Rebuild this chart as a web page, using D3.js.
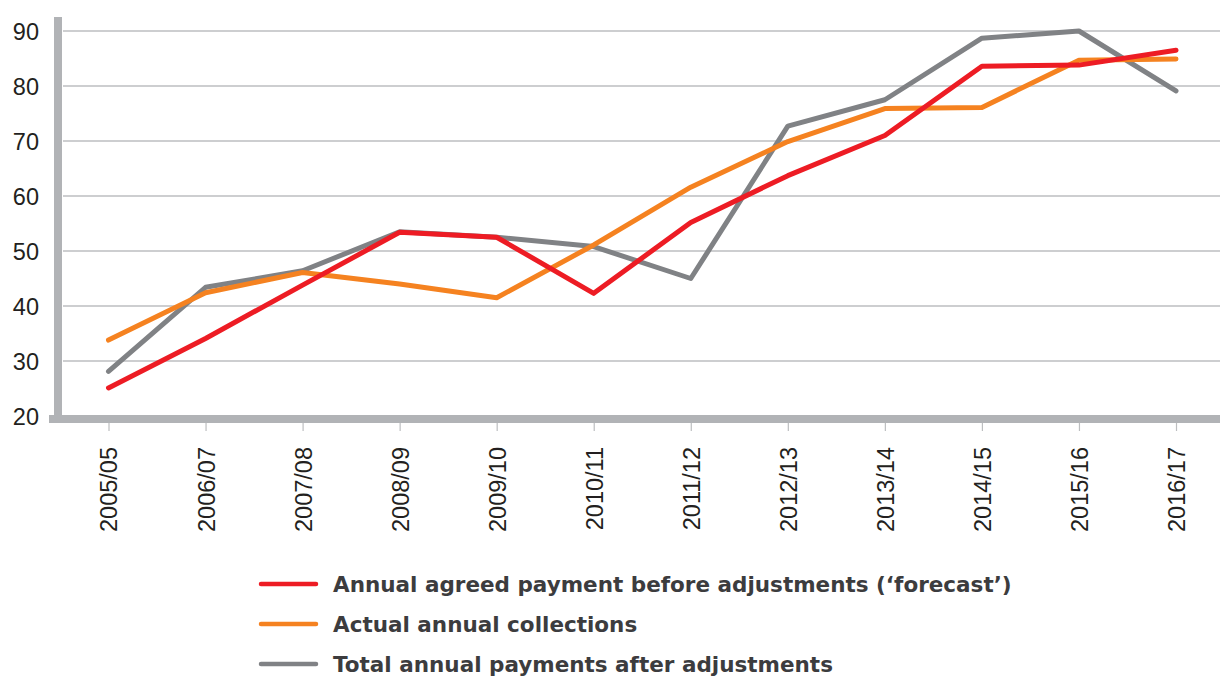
<!DOCTYPE html>
<html>
<head>
<meta charset="utf-8">
<script src="https://cdnjs.cloudflare.com/ajax/libs/d3/7.8.5/d3.min.js"></script>
<style>
  body { margin: 0; background: #fff; }
  svg { display: block; }
  .tick-label { font-family: "Liberation Sans", Arial, sans-serif; font-size: 23.5px; fill: #231f20; }
  .legend-label { font-family: "DejaVu Sans", sans-serif; font-weight: bold; font-size: 21.5px; fill: #3c3c3e; }
</style>
</head>
<body>
<svg></svg>
<script>
var years = ['2005/05', '2006/07', '2007/08', '2008/09', '2009/10', '2010/11',
             '2011/12', '2012/13', '2013/14', '2014/15', '2015/16', '2016/17'];
var forecast = [25.1, 34.1, 43.8, 53.4, 52.5, 42.3, 55.2, 63.7, 71.0, 83.6, 83.8, 86.5];
var collections = [33.8, 42.4, 46.1, 44.0, 41.5, 51.1, 61.6, 69.9, 75.9, 76.1, 84.7, 84.9];
var totals = [28.1, 43.4, 46.4, 53.5, 52.5, 50.8, 45.0, 72.7, 77.5, 88.7, 90.0, 79.1];
var yTicks = [20, 30, 40, 50, 60, 70, 80, 90];
var seriesNames = ["Annual agreed payment before adjustments (\u2018forecast\u2019)",
                   'Actual annual collections',
                   'Total annual payments after adjustments'];
var seriesColors = ['#ed1c24', '#f58220', '#808285'];

var width = 1220;
var height = 677;
var svg = d3.select('svg')
              .attr('width', width)
              .attr('height', height);

var xScale = d3.scalePoint()
               .domain(years)
               .range([108.5, 1176]);

var yScale = d3.scaleLinear()
               .domain([20, 90])
               .range([416, 31]);

// horizontal gridlines
svg.append('g')
   .selectAll('line')
   .data(yTicks.filter(d => d > 20))
   .enter()
   .append('line')
     .attr('x1', 63)
     .attr('x2', width)
     .attr('y1', d => yScale(d))
     .attr('y2', d => yScale(d))
     .attr('stroke', '#bcbec0')
     .attr('stroke-width', 1.5);

// y labels
svg.append('g')
   .selectAll('text')
   .data(yTicks)
   .enter()
   .append('text')
     .attr('class', 'tick-label')
     .attr('x', 39)
     .attr('y', d => yScale(d) + 8.5)
     .attr('text-anchor', 'end')
     .text(d => d);

// x axis ticks + rotated labels
var xAxis = svg.append('g')
   .attr('transform', 'translate(0, 423)')
   .call(d3.axisBottom(xScale).tickSize(8).tickPadding(16));
xAxis.select('.domain').remove();
xAxis.selectAll('.tick line').attr('stroke', '#bcbec0').attr('stroke-width', 1.2);
xAxis.selectAll('.tick text')
   .attr('class', 'tick-label')
   .attr('transform', 'rotate(-90)')
   .attr('text-anchor', 'end')
   .attr('x', -24)
   .attr('y', 0)
   .attr('dy', '0.36em');

// thick axis bars
svg.append('rect')
   .attr('x', 54).attr('y', 17)
   .attr('width', 8).attr('height', 406)
   .attr('fill', '#b1b3b6');
svg.append('rect')
   .attr('x', 49).attr('y', 415)
   .attr('width', width - 49).attr('height', 8)
   .attr('fill', '#b1b3b6');

var line = d3.line()
             .x((d, i) => xScale(years[i]))
             .y(d => yScale(d));

var series = [totals, collections, forecast];
var colorsDrawn = [seriesColors[2], seriesColors[1], seriesColors[0]];

svg.append('g')
   .selectAll('path')
   .data(series)
   .enter()
   .append('path')
     .attr('d', d => line(d))
     .attr('fill', 'none')
     .attr('stroke', (d, i) => colorsDrawn[i])
     .attr('stroke-width', 5)
     .attr('stroke-linejoin', 'round')
     .attr('stroke-linecap', 'round');

// legend
var legend = svg.append('g')
   .selectAll('g')
   .data(seriesNames)
   .enter()
   .append('g')
     .attr('transform', (d, i) => `translate(0, ${584 + i * 40})`);

legend.append('line')
   .attr('x1', 261)
   .attr('x2', 316)
   .attr('stroke', (d, i) => seriesColors[i])
   .attr('stroke-width', 4.5)
   .attr('stroke-linecap', 'round');

legend.append('text')
   .attr('class', 'legend-label')
   .attr('x', 333)
   .attr('y', 8)
   .text(d => d);
</script>
</body>
</html>
